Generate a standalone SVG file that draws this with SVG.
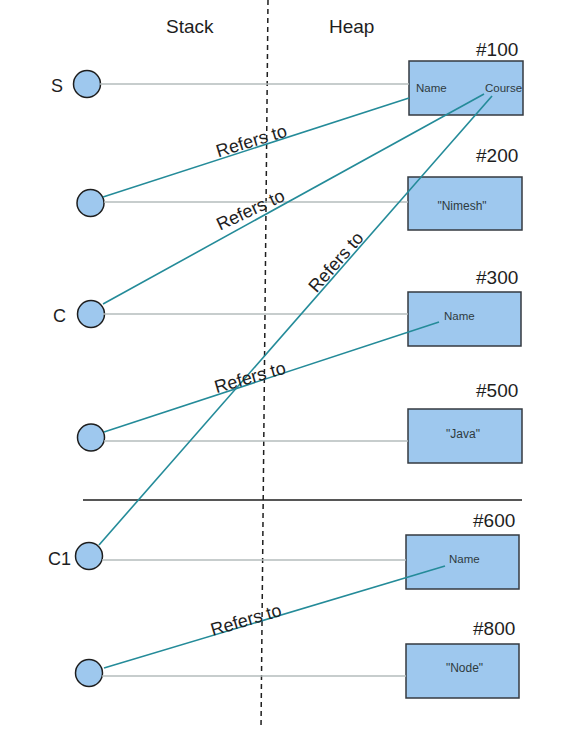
<svg xmlns="http://www.w3.org/2000/svg" width="580" height="729" viewBox="0 0 580 729">
<style>
text{font-family:"Liberation Sans",Arial,sans-serif;fill:#1e1e1e}
.ttl{font-size:19px}
.var{font-size:18px}
.addr{font-size:19px}
.fld{font-size:11.5px;fill:#2e3b3e}
.val{font-size:12px;fill:#2e3b3e;text-anchor:middle}
.lbl{font-size:18px;text-anchor:middle;dominant-baseline:central}
.ref{fill:#9ec8ee;stroke:#1e1e1e;stroke-width:1.5}
.obj{fill:#9ec8ee;stroke:#343a40;stroke-width:1.5}
.gray{stroke:#b4bdbd;stroke-width:1.5;fill:none}
.teal{stroke:#248b99;stroke-width:1.6;fill:none}
</style>
<rect width="580" height="729" fill="#ffffff"/>
<g id="decor">
<text class="ttl" x="166" y="33">Stack</text>
<text class="ttl" x="329" y="33">Heap</text>
<line x1="268" y1="0" x2="261" y2="729" stroke="#1e1e1e" stroke-width="1.5" stroke-dasharray="5 4"/>
<line x1="83" y1="500" x2="522" y2="500" stroke="#1e1e1e" stroke-width="1.5"/>
</g>
<g id="ref-s">
<circle class="ref" cx="87" cy="84" r="13.5"/>
<text class="var" x="51" y="92">S</text>
</g>
<g id="ref-2">
<circle class="ref" cx="90.5" cy="203" r="13.5"/>
</g>
<g id="ref-c">
<circle class="ref" cx="91" cy="314" r="13.5"/>
<text class="var" x="53" y="322">C</text>
</g>
<g id="ref-4">
<circle class="ref" cx="91" cy="437.5" r="13.5"/>
</g>
<g id="ref-c1">
<circle class="ref" cx="89" cy="556" r="13.5"/>
<text class="var" x="48" y="565">C1</text>
</g>
<g id="ref-6">
<circle class="ref" cx="89" cy="673" r="13.5"/>
</g>
<g id="obj-100">
<rect class="obj" x="409" y="61" width="114" height="54"/>
<text class="addr" x="476" y="56">#100</text>
<text class="fld" x="416" y="91.5">Name</text>
<text class="fld" x="485" y="92">Course</text>
</g>
<g id="obj-200">
<rect class="obj" x="408" y="177" width="114" height="53"/>
<text class="addr" x="476" y="161.5">#200</text>
<text class="val" x="462" y="210">"Nimesh"</text>
</g>
<g id="obj-300">
<rect class="obj" x="408" y="292" width="113" height="54"/>
<text class="addr" x="476" y="284">#300</text>
<text class="fld" x="444" y="320">Name</text>
</g>
<g id="obj-500">
<rect class="obj" x="408" y="409" width="114" height="54"/>
<text class="addr" x="476" y="396.5">#500</text>
<text class="val" x="463" y="438">"Java"</text>
</g>
<g id="obj-600">
<rect class="obj" x="406" y="535" width="113" height="54"/>
<text class="addr" x="473" y="526.5">#600</text>
<text class="fld" x="449" y="563">Name</text>
</g>
<g id="obj-800">
<rect class="obj" x="406" y="644" width="113" height="54"/>
<text class="addr" x="473" y="635">#800</text>
<text class="val" x="464.5" y="671.5">"Node"</text>
</g>
<g id="connectors">
<line class="gray" x1="100" y1="84" x2="409" y2="84"/>
<line class="gray" x1="104" y1="202" x2="408" y2="202"/>
<line class="gray" x1="103" y1="314" x2="408" y2="314"/>
<line class="gray" x1="104" y1="441" x2="408" y2="441"/>
<line class="gray" x1="102" y1="560" x2="406" y2="560"/>
<line class="gray" x1="102" y1="676" x2="406" y2="676"/>
<line class="teal" x1="103" y1="197" x2="409" y2="98"/>
<line class="teal" x1="103" y1="304" x2="484" y2="94"/>
<line class="teal" x1="99" y1="545" x2="492" y2="96"/>
<line class="teal" x1="104" y1="432" x2="439" y2="322"/>
<line class="teal" x1="104" y1="668" x2="445" y2="566"/>
<text class="lbl" transform="translate(251.5 141) rotate(-17)">Refers to</text>
<text class="lbl" transform="translate(250.5 210) rotate(-25)">Refers to</text>
<text class="lbl" transform="translate(336 262) rotate(-49)">Refers to</text>
<text class="lbl" transform="translate(250 377.5) rotate(-16)">Refers to</text>
<text class="lbl" transform="translate(246 620) rotate(-16.5)">Refers to</text>
</g>
</svg>
